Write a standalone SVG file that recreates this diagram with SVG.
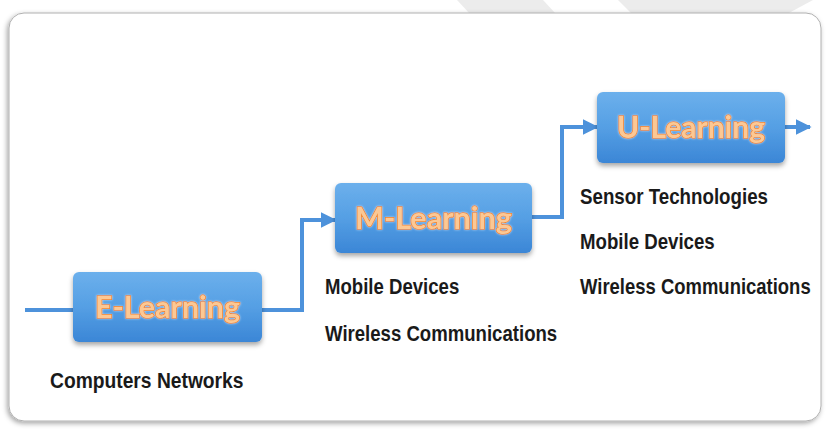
<svg xmlns="http://www.w3.org/2000/svg" width="826" height="429" viewBox="0 0 826 429">
  <defs>
    <style>
      .node-label { font-family: "Lato", "Liberation Sans", sans-serif; font-weight: bold; font-size: 31px; fill: #fcc894; stroke: #ee8332; stroke-width: 1.6px; paint-order: stroke; text-anchor: middle; }
      .tech { font-family: "Liberation Sans", Arial, sans-serif; font-weight: bold; font-size: 22px; fill: #1a1a1a; }
      .conn { fill: none; stroke: #4d92db; stroke-width: 4; stroke-linejoin: miter; }
    </style>
    <linearGradient id="boxGrad" x1="0" y1="0" x2="0" y2="1">
      <stop offset="0" stop-color="#6cb0ec"/>
      <stop offset="0.5" stop-color="#559fe4"/>
      <stop offset="1" stop-color="#3b86d6"/>
    </linearGradient>
    <filter id="boxShadow" x="-10%" y="-10%" width="120%" height="140%">
      <feDropShadow dx="0" dy="3" stdDeviation="2.5" flood-color="#000" flood-opacity="0.35"/>
    </filter>
    <filter id="frameShadow" x="-5%" y="-5%" width="110%" height="110%">
      <feDropShadow dx="-1.5" dy="2" stdDeviation="2.5" flood-color="#000" flood-opacity="0.35"/>
    </filter>
    <filter id="glow" x="-10%" y="-20%" width="120%" height="140%">
      <feGaussianBlur in="SourceAlpha" stdDeviation="1.2" result="b"/>
      <feFlood flood-color="#ffffff" flood-opacity="0.6"/>
      <feComposite in2="b" operator="in" result="g"/>
      <feMerge><feMergeNode in="g"/><feMergeNode in="SourceGraphic"/></feMerge>
    </filter>
    <marker id="arrow" viewBox="0 0 10 10" refX="9" refY="5" markerWidth="4" markerHeight="4.4" orient="auto" markerUnits="strokeWidth">
      <path d="M0,0 L10,5 L0,10 Z" fill="#4d92db"/>
    </marker>
  </defs>

  <rect x="0" y="0" width="826" height="429" fill="#ffffff"/>
  <!-- background watermark bands -->
  <polygon points="457,0 543,0 556,14 470,14" fill="#ececec"/>
  <polygon points="618,0 813,0 787,14 632,14" fill="#ececec"/>

  <!-- frame -->
  <rect x="9" y="13" width="812" height="408" rx="15" ry="15" fill="#ffffff" stroke="#b0b0b0" stroke-width="1" filter="url(#frameShadow)"/>

  <g id="connectors">
    <line class="conn" x1="25" y1="310" x2="73" y2="310"/>
    <polyline class="conn" points="262,310 302,310 302,220 335,220" marker-end="url(#arrow)"/>
    <polyline class="conn" points="532,217 562,217 562,127 597,127" marker-end="url(#arrow)"/>
    <line class="conn" x1="785" y1="127" x2="810" y2="127" marker-end="url(#arrow)"/>
  </g>

  <g id="e-learning">
    <rect x="73" y="272" width="189" height="70" rx="6" fill="url(#boxGrad)" filter="url(#boxShadow)"/>
    <text class="node-label" x="167.5" y="318" textLength="145" lengthAdjust="spacingAndGlyphs" filter="url(#glow)">E-Learning</text>
    <text class="tech" transform="translate(50,388) scale(0.875,1)">Computers Networks</text>
  </g>

  <g id="m-learning">
    <rect x="335" y="183" width="197" height="70" rx="6" fill="url(#boxGrad)" filter="url(#boxShadow)"/>
    <text class="node-label" x="433.5" y="229" textLength="157" lengthAdjust="spacingAndGlyphs" filter="url(#glow)">M-Learning</text>
    <text class="tech" transform="translate(325,294) scale(0.845,1)">Mobile Devices</text>
    <text class="tech" transform="translate(325,341) scale(0.845,1)">Wireless Communications</text>
  </g>

  <g id="u-learning">
    <rect x="597" y="92" width="188" height="71" rx="6" fill="url(#boxGrad)" filter="url(#boxShadow)"/>
    <text class="node-label" x="691" y="138" textLength="148" lengthAdjust="spacingAndGlyphs" filter="url(#glow)">U-Learning</text>
    <text class="tech" transform="translate(580,204) scale(0.852,1)">Sensor Technologies</text>
    <text class="tech" transform="translate(580,249) scale(0.848,1)">Mobile Devices</text>
    <text class="tech" transform="translate(580,294) scale(0.84,1)">Wireless Communications</text>
  </g>
</svg>
